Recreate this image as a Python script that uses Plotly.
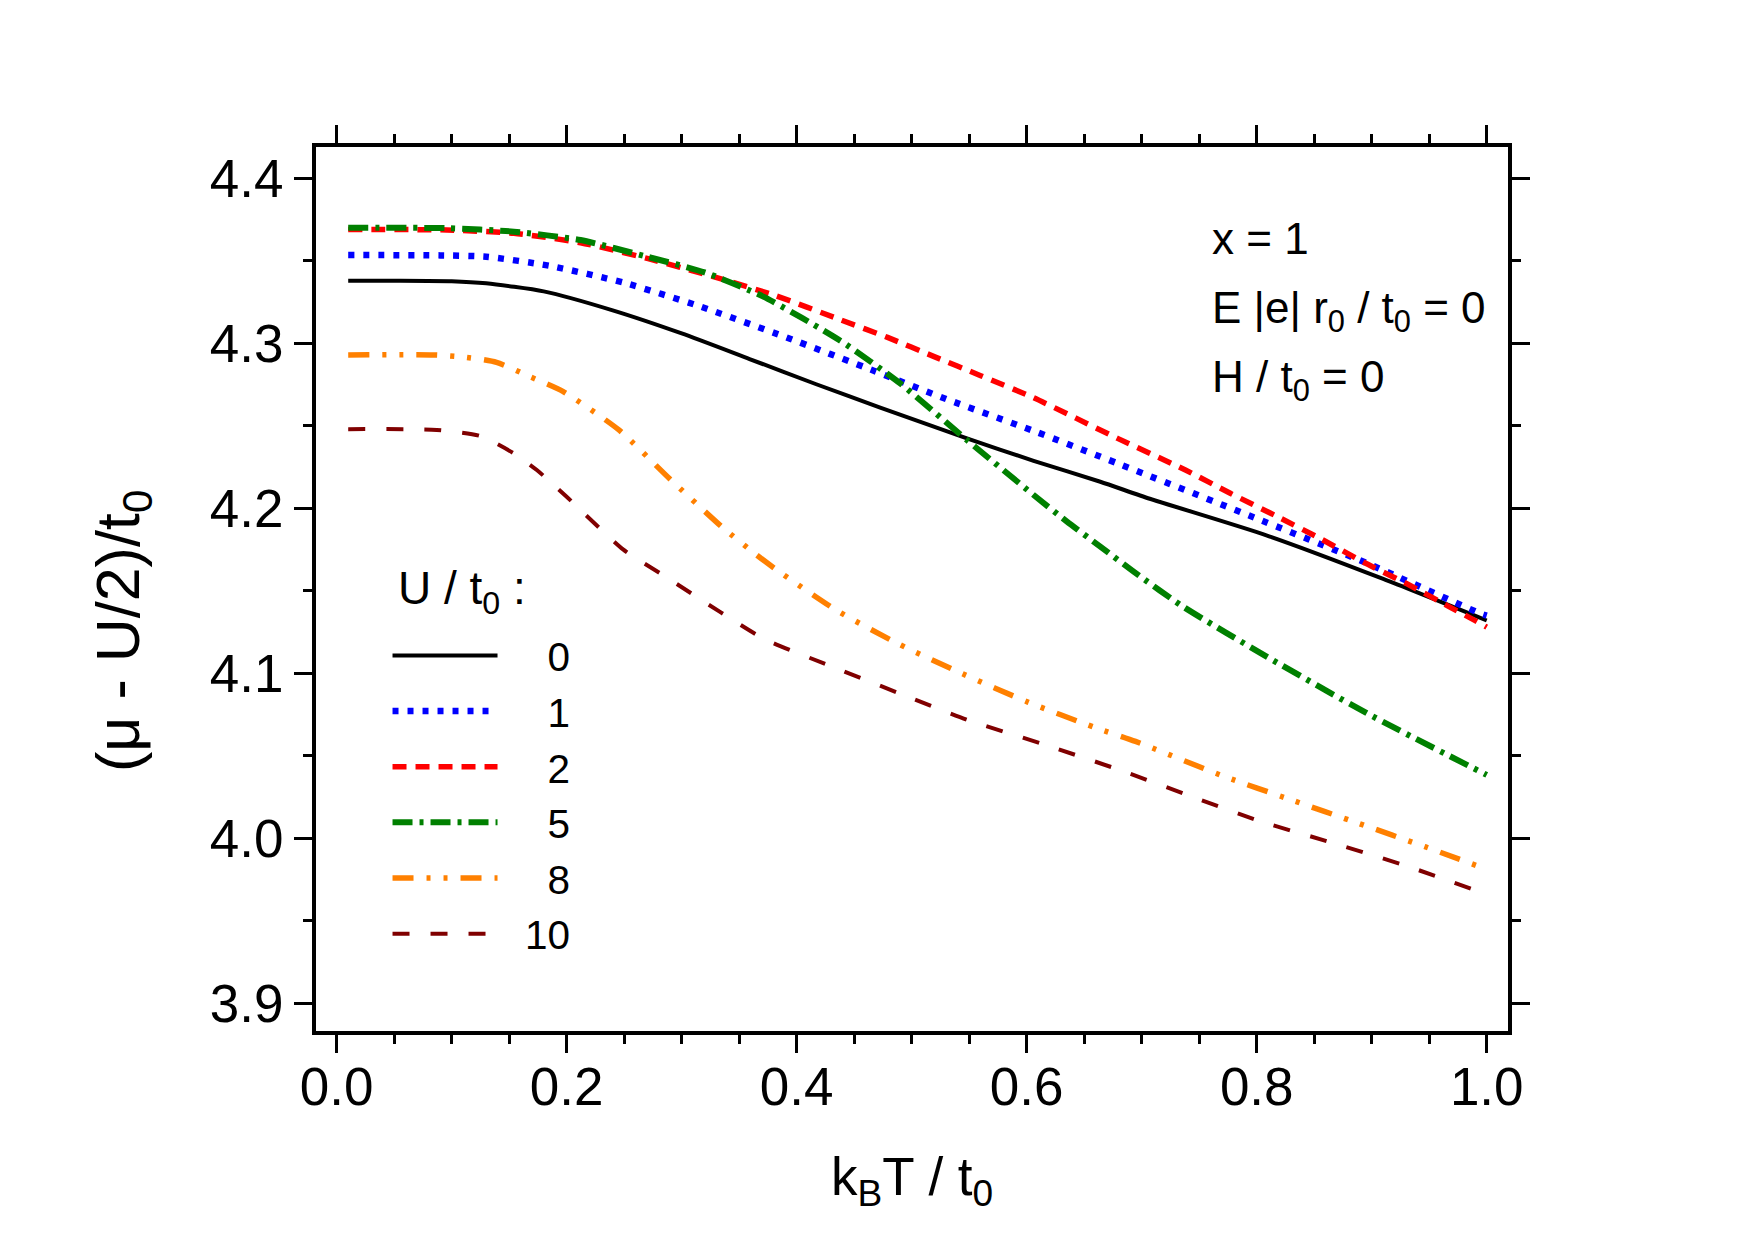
import plotly.graph_objects as go

# ---------------- data ----------------
u_labels = ["0", "1", "2", "5", "8", "10"]

x_u0 = [0.01, 0.05, 0.10, 0.13, 0.18, 0.24, 0.30, 0.359, 0.417, 0.472, 0.548, 0.606, 0.664, 0.707, 0.809, 0.910, 1.00]
y_u0 = [4.338, 4.338, 4.3377, 4.3364, 4.3315, 4.320, 4.306, 4.2905, 4.2752, 4.2612, 4.2424, 4.2288, 4.2161, 4.2058, 4.1835, 4.1572, 4.132]

x_u1 = [0.01, 0.09, 0.13, 0.185, 0.25, 0.315, 0.391, 0.467, 0.53, 0.606, 0.681, 0.794, 0.896, 0.994, 1.0]
y_u1 = [4.3535, 4.3533, 4.3525, 4.347, 4.3367, 4.3226, 4.3036, 4.2834, 4.2662, 4.2469, 4.2267, 4.1955, 4.1667, 4.1364, 4.135]

x_u2 = [0.01, 0.096, 0.154, 0.212, 0.27, 0.3275, 0.38, 0.438, 0.479, 0.519, 0.56, 0.606, 0.679, 0.738, 0.777, 0.8165, 0.856, 0.893, 0.931, 0.97, 0.99, 1.0]
y_u2 = [4.369, 4.3687, 4.3667, 4.361, 4.3515, 4.3404, 4.3293, 4.3143, 4.3036, 4.2921, 4.2804, 4.267, 4.2424, 4.2232, 4.2091, 4.1955, 4.1814, 4.1673, 4.1541, 4.1394, 4.1319, 4.128]

x_u5 = [0.01, 0.096, 0.154, 0.212, 0.27, 0.32, 0.371, 0.438, 0.49, 0.548, 0.606, 0.635, 0.664, 0.693, 0.736, 0.809, 0.896, 1.0]
y_u5 = [4.370, 4.3698, 4.3677, 4.3626, 4.3525, 4.343, 4.3283, 4.3016, 4.2757, 4.2414, 4.2081, 4.1919, 4.1768, 4.1616, 4.1404, 4.110, 4.0757, 4.0384]

x_u8 = [0.01, 0.084, 0.113, 0.139, 0.168, 0.197, 0.2454, 0.2893, 0.3352, 0.3652, 0.3835, 0.435, 0.4883, 0.5439, 0.6015, 0.6587, 0.6946, 0.7724, 0.8304, 0.8884, 0.9463, 1.0]
y_u8 = [4.293, 4.293, 4.2915, 4.2885, 4.2798, 4.2707, 4.2475, 4.2181, 4.1886, 4.1717, 4.1622, 4.138, 4.1179, 4.0998, 4.0824, 4.0673, 4.0587, 4.0373, 4.0232, 4.0091, 3.9949, 3.9812]

x_u10 = [0.01, 0.087, 0.125, 0.154, 0.174, 0.199, 0.249, 0.285, 0.334, 0.372, 0.425, 0.488, 0.548, 0.615, 0.678, 0.74, 0.804, 0.867, 0.932, 1.0]
y_u10 = [4.248, 4.2475, 4.2438, 4.2333, 4.2232, 4.2076, 4.1751, 4.159, 4.1369, 4.1207, 4.1056, 4.0882, 4.0719, 4.0569, 4.0421, 4.0262, 4.0101, 3.997, 3.9828, 3.966]

x_tickvals = [0.0, 0.2, 0.4, 0.6, 0.8, 1.0]
x_ticktext = ["0.0", "0.2", "0.4", "0.6", "0.8", "1.0"]
y_tickvals = [3.9, 4.0, 4.1, 4.2, 4.3, 4.4]
y_ticktext = ["3.9", "4.0", "4.1", "4.2", "4.3", "4.4"]

# ---------------- styles ----------------
FONT = "Liberation Sans, Arial, sans-serif"
series = [
    (x_u0, y_u0, "#000000", 4.0, "solid"),
    (x_u1, y_u1, "#0000FF", 6.5, "6px,9px"),
    (x_u2, y_u2, "#FF0000", 5.5, "14px,9px"),
    (x_u5, y_u5, "#008000", 6.0, "20px,7px,4px,7px"),
    (x_u8, y_u8, "#FF8000", 5.5, "21px,13px,4px,13px,4px,13px"),
    (x_u10, y_u10, "#800000", 4.0, "17px,21px"),
]

fig = go.Figure()
for (xs, ys, col, w, dash), lab in zip(series, u_labels):
    pad = "\u00a0\u00a0" if len(lab) == 2 else "\u00a0\u00a0\u00a0\u00a0"
    fig.add_trace(go.Scatter(
        x=xs, y=ys, mode="lines", name=pad + lab,
        line=dict(color=col, width=w, dash=dash, shape="spline", smoothing=0.6),
    ))

axis_common = dict(
    showline=True, linecolor="black", linewidth=4, mirror="ticks",
    ticks="outside", ticklen=18, tickwidth=3, tickcolor="black",
    showgrid=False, zeroline=False,
    tickfont=dict(family=FONT, size=53, color="black"),
)

fig.update_xaxes(
    range=[-0.018, 1.0185], tickvals=x_tickvals, ticktext=x_ticktext,
    ticklabelstandoff=-12,
    minor=dict(dtick=0.05, tick0=0, ticks="outside", ticklen=9, tickwidth=3, tickcolor="black"),
    **axis_common,
)
fig.update_yaxes(
    range=[3.8832, 4.419], tickvals=y_tickvals, ticktext=y_ticktext,
    minor=dict(dtick=0.05, tick0=3.9, ticks="outside", ticklen=9, tickwidth=3, tickcolor="black"),
    **axis_common,
)

fig.update_layout(
    width=1755, height=1242,
    margin=dict(l=316, r=247, t=147, b=211),
    paper_bgcolor="white", plot_bgcolor="white",
    font=dict(family=FONT, color="black"),
    showlegend=True,
    legend=dict(
        x=0.06, y=0.462, xanchor="left", yanchor="top",
        bgcolor="rgba(0,0,0,0)", borderwidth=0,
        itemwidth=105,
        font=dict(family=FONT, size=40.5, color="black"),
        tracegroupgap=0,
    ),
)

# legend heading
fig.add_annotation(
    text="U / t<sub>0</sub> :", xref="paper", yref="paper",
    x=0.067, y=0.4977, xanchor="left", yanchor="middle", showarrow=False,
    font=dict(family=FONT, size=46, color="black"),
)

# axis titles
fig.add_annotation(
    text="k<sub>B</sub>T / t<sub>0</sub>", xref="paper", yref="paper",
    x=0.5, y=-0.1686, xanchor="center", yanchor="middle", showarrow=False,
    font=dict(family=FONT, size=53, color="black"),
)
fig.add_annotation(
    text="(\u03bc - U/2)/t<sub>0</sub>", xref="paper", yref="paper",
    x=-0.1619, y=0.4525, xanchor="center", yanchor="middle", showarrow=False,
    textangle=-90, font=dict(family=FONT, size=61, color="black"),
)

# parameter labels
for txt, yy in [("x = 1", 0.897),
                ("E |e| r<sub>0</sub> / t<sub>0</sub> = 0", 0.8148),
                ("H / t<sub>0</sub> = 0", 0.7368)]:
    fig.add_annotation(
        text=txt, xref="paper", yref="paper", x=0.75, y=yy,
        xanchor="left", yanchor="middle", showarrow=False,
        font=dict(family=FONT, size=44, color="black"),
    )

fig.write_html("out.html")
